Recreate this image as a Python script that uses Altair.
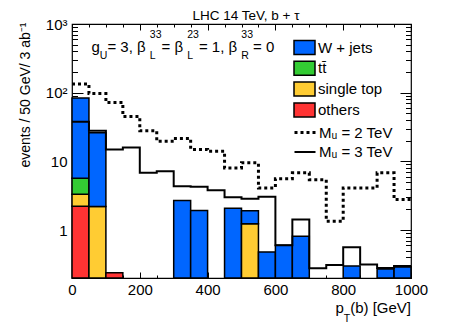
import altair as alt
import pandas as pd

# ---------------- data ----------------
bin_lo = list(range(0, 1000, 50))
bin_width = 50

bkg_labels = ["W + jets", "tt\u0304", "single top", "others"]
bkg_colors = ["#0066ff", "#33cc33", "#ffcc33", "#ff3333"]

w_jets     = [78.3, 23.8, 0, 0, 0, 0, 2.69, 1.92, 0, 2.08, 0.67, 0.48, 0.60, 0.81, 0, 0, 0.30, 0, 0.27, 0.29]
ttbar      = [2.32, 0, 0, 0, 0, 0, 0, 0, 0, 0, 0, 0, 0, 0, 0, 0, 0, 0, 0, 0]
single_top = [1.11, 2.2, 0, 0, 0, 0, 0, 0, 0, 0, 1.23, 0, 0, 0, 0, 0, 0, 0, 0, 0]
others     = [2.22, 0, 0.238, 0, 0, 0, 0, 0, 0, 0, 0, 0, 0, 0, 0, 0, 0, 0, 0, 0]

sig_labels = ["M\u1d64 = 2 TeV", "M\u1d64 = 3 TeV"]
sig_m2 = [134, 97, 72, 45, 28, 19.6, 21.5, 14.9, 14.0, 8.0, 9.5, 4.1, 5.56, 6.8, 5.4, 1.34, 4.1, 4.1, 6.8, 2.78]
sig_m3 = [37.6, 28, 14.9, 15.9, 6.8, 7.2, 4.34, 4.25, 3.8, 3.0, 2.85, 3.04, 0.60, 1.42, 0.278, 0.31, 0.56, 0.315, 0.28, 0.30]

x_ticks = [0, 200, 400, 600, 800, 1000]
y_ticks = [1, 10, 100, 1000]
title_text = "LHC 14 TeV, b + \u03c4"
y_title = "events / 50 GeV/ 3 ab\u207b\u00b9"
# annotation groups: (normal text, superscript, subscript)
note_groups = [("g", "", "U"), (" = 3, \u03b2", "33", "L"), (" = \u03b2", "23", "L"),
               (" = 1, \u03b2", "33", "R"), (" = 0", "", "")]
xtitle_groups = [("p", "", "T"), ("(b) [GeV]", "", "")]

# ---------------- layout constants ----------------
FONT = "Liberation Sans"
W, H = 339, 254
Y_MIN, Y_MAX = 0.2, 1000
FS, FS_S = 15, 10.5

# ---------------- build tables ----------------
stack_order = [("others", others), ("single top", single_top), ("tt\u0304", ttbar), ("W + jets", w_jets)]
rows = []
for i, lo in enumerate(bin_lo):
    cum = 0.0
    for name, vals in stack_order:
        v = vals[i]
        if v > 0:
            rows.append(dict(x0=lo, x1=lo + bin_width, lo=max(cum, Y_MIN), hi=cum + v, process=name))
            cum += v
df_bkg = pd.DataFrame(rows)

rows = []
for name, vals in zip(sig_labels, [sig_m2, sig_m3]):
    for i, lo in enumerate(bin_lo):
        rows.append(dict(x=lo, y=vals[i], series=name))
    rows.append(dict(x=bin_lo[-1] + bin_width, y=vals[-1], series=name))
df_sig = pd.DataFrame(rows)

# Arial / Liberation Sans advance widths (per em)
AW = {" ": .278, "(": .333, ")": .333, ",": .278, "=": .584, "[": .278, "]": .278,
      "G": .778, "L": .556, "R": .722, "T": .611, "U": .722, "V": .667,
      "b": .556, "e": .556, "g": .556, "p": .556, "\u03b2": .575}
def tw(s, fs):
    return sum(AW.get(c, .556) for c in s) * fs

def pieces(groups, x0, y0, sup_dy, sub_dy):
    out = []
    x = x0
    for main, sup, sub in groups:
        out.append(dict(px=x, py=y0, txt=main, fs=FS))
        x += tw(main, FS)
        adv = 0
        if sup:
            out.append(dict(px=x, py=y0 + sup_dy, txt=sup, fs=FS_S))
            adv = max(adv, tw(sup, FS_S))
        if sub:
            out.append(dict(px=x, py=y0 + sub_dy, txt=sub, fs=FS_S))
            adv = max(adv, tw(sub, FS_S))
        x += adv
    return out, x

note_rows, _ = pieces(note_groups, 19.5, 28, -14.5, 6.5)
xt_rows, xt_end = pieces(xtitle_groups, 0, 0, -8, 9)
xt_rows = [dict(r, px=r["px"] + (W - xt_end), py=r["py"] + 289) for r in xt_rows]
df_txt = pd.DataFrame(note_rows + xt_rows)
df_title = pd.DataFrame([dict(px=W / 2 + 4.5, py=-4, txt=title_text)])

# ---------------- scales & axes ----------------
xs = alt.Scale(domain=[0, 1000], nice=False, zero=False)
ys = alt.Scale(type="log", domain=[Y_MIN, Y_MAX], nice=False)
x_minor = [v for v in range(0, 1001, 50) if v % 200]
y_minor = [round(m * 10.0 ** e, 6) for e in range(-1, 3) for m in range(2, 10) if m * 10.0 ** e >= Y_MIN]

def tick_axis(orient, values, size, offset):
    return alt.Axis(orient=orient, offset=offset, values=values, tickSize=size, labels=False,
                    domain=False, title=None, grid=False, ticks=True, tickColor="black", tickWidth=1)

x_lab_axis = alt.Axis(orient="bottom", values=x_ticks, format="d", ticks=False, domain=False, grid=False,
                      labelFlush=False, labelPadding=4, labelFontSize=FS, labelFont=FONT,
                      labelColor="black", title=None)
y_lab_axis = alt.Axis(orient="left", values=y_ticks, ticks=False, domain=False, grid=False, labelFlush=False,
                      labelExpr="datum.value >= 999 ? '10\u00b3' : datum.value >= 99 ? '10\u00b2' : datum.value >= 9 ? '10' : '1'",
                      labelPadding=5, labelFontSize=FS, labelFont=FONT, labelColor="black",
                      title=y_title, titleFont=FONT, titleFontSize=14, titleFontWeight="normal", titleColor="black",
                      titleAngle=270, titleAlign="right", titleBaseline="middle", titleX=-46.5, titleY=-2)

bars = alt.Chart(df_bkg).mark_rect(stroke="black", strokeWidth=1.5).encode(
    x=alt.X("x0:Q", scale=xs, axis=x_lab_axis),
    x2="x1:Q",
    y=alt.Y("lo:Q", scale=ys, axis=y_lab_axis),
    y2="hi:Q",
    fill=alt.Fill("process:N", scale=alt.Scale(domain=bkg_labels, range=bkg_colors),
                  legend=alt.Legend(title=None, orient="none", legendX=224.5, legendY=15.5,
                                    symbolType="M-1.5,-1H1.5V1H-1.5Z", symbolSize=196,
                                    symbolStrokeColor="black", symbolStrokeWidth=1.5, symbolOpacity=1,
                                    labelFontSize=FS, labelFont=FONT, labelColor="black",
                                    labelOffset=5.5, rowPadding=0.8, padding=0)),
)

sig_legend = alt.Legend(title=None, orient="none", legendX=221, legendY=96.5, symbolType="stroke",
                        symbolSize=441, symbolStrokeColor="black", labelFontSize=FS, labelFont=FONT,
                        labelColor="black", labelOffset=2, rowPadding=0, padding=0)
lines = alt.Chart(df_sig).mark_line(interpolate="step-after", color="black", strokeCap="butt").encode(
    x=alt.X("x:Q", scale=xs, axis=tick_axis("top", x_ticks, 6, -H)),
    y=alt.Y("y:Q", scale=ys, axis=tick_axis("right", y_ticks, 11, -W)),
    strokeDash=alt.StrokeDash("series:N", scale=alt.Scale(domain=sig_labels, range=[[3, 3], [1, 0]]), legend=sig_legend),
    strokeWidth=alt.StrokeWidth("series:N", scale=alt.Scale(domain=sig_labels, range=[3, 2]), legend=sig_legend),
    detail="series:N",
)

def dummy(xax, yax):
    return alt.Chart(df_sig).mark_point(opacity=0).encode(
        x=alt.X("x:Q", scale=xs, axis=xax), y=alt.Y("y:Q", scale=ys, axis=yax))

d1 = dummy(tick_axis("top", x_minor, 3, -H), tick_axis("right", y_minor, 5.5, -W))
d2 = dummy(tick_axis("bottom", x_ticks, 6, -H), tick_axis("left", y_ticks, 11, -W))
d3 = dummy(tick_axis("bottom", x_minor, 3, -H), tick_axis("left", y_minor, 5.5, -W))

texts = alt.Chart(df_txt).mark_text(align="left", baseline="alphabetic", font=FONT, color="black").encode(
    x=alt.X("px:Q", scale=None, axis=None),
    y=alt.Y("py:Q", scale=None, axis=None),
    text="txt:N",
    size=alt.Size("fs:Q", scale=None, legend=None),
)
title = alt.Chart(df_title).mark_text(align="center", baseline="alphabetic", font=FONT, fontSize=13.5,
                                      color="black").encode(
    x=alt.X("px:Q", scale=None, axis=None),
    y=alt.Y("py:Q", scale=None, axis=None),
    text="txt:N",
)

chart = alt.layer(bars, lines, d1, d2, d3, texts, title).resolve_axis(
    x="independent", y="independent"
).properties(
    width=W, height=H,
    autosize=alt.AutoSizeParams(type="none"),
    padding={"left": 64, "top": 16, "right": 38, "bottom": 50},
).configure_view(stroke="black", strokeWidth=1.2)

chart.save("out.html", embed_options={"renderer": "svg", "actions": False})
